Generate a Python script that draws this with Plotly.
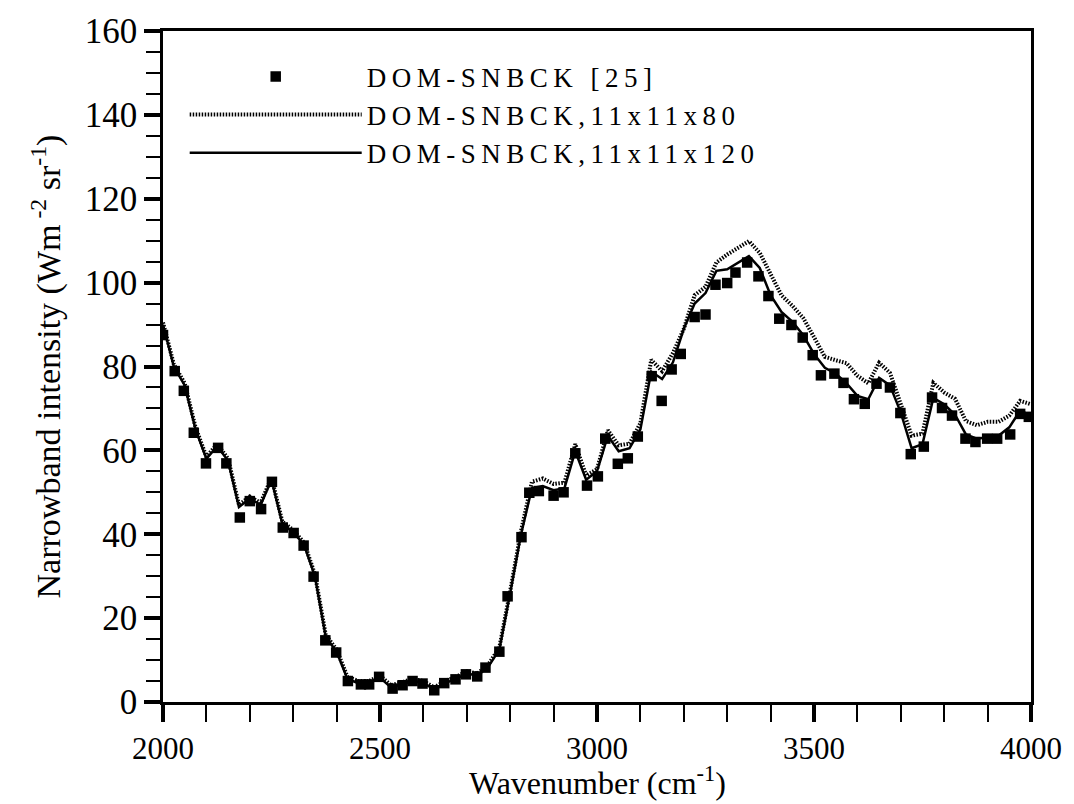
import plotly.graph_objects as go

# Reference data (markers): DOM-SNBCK [25]
ref_x = [2000, 2027, 2048, 2071, 2099, 2127, 2146, 2177, 2200, 2226, 2251, 2276, 2301, 2324,
         2347, 2374, 2399, 2426, 2456, 2475, 2498, 2529, 2552, 2575, 2598, 2625, 2648, 2674,
         2698, 2724, 2743, 2775, 2794, 2826, 2844, 2866, 2900, 2923, 2950, 2977, 3002, 3019,
         3048, 3071, 3094, 3126, 3149, 3172, 3193, 3225, 3250, 3273, 3300, 3319, 3346, 3372,
         3395, 3420, 3448, 3474, 3497, 3516, 3547, 3568, 3592, 3617, 3644, 3675, 3699, 3723,
         3753, 3772, 3795, 3818, 3849, 3872, 3899, 3922, 3952, 3975, 3995]
ref_y = [87.5, 78.9, 74.2, 64.2, 56.9, 60.6, 56.9, 44.0, 47.9, 46.0, 52.5, 41.6, 40.3, 37.3,
         29.9, 14.7, 11.8, 5.0, 4.2, 4.2, 6.0, 3.2, 4.0, 5.0, 4.4, 2.8, 4.5, 5.4,
         6.6, 6.1, 8.2, 12.0, 25.2, 39.3, 49.9, 50.3, 49.2, 50.0, 59.3, 51.6, 53.8, 62.8,
         56.8, 58.1, 63.3, 77.7, 71.8, 79.3, 83.0, 91.8, 92.4, 99.5, 99.9, 102.4, 104.8, 101.5,
         96.8, 91.4, 89.9, 86.9, 82.7, 77.9, 78.3, 76.1, 72.2, 71.1, 75.9, 75.0, 68.9, 59.1,
         60.9, 72.6, 70.1, 68.3, 62.8, 62.0, 62.8, 62.8, 63.8, 68.7, 68.0]

# Computed spectra (lines)
calc_x = [2000, 2025, 2050, 2075, 2100, 2125, 2150, 2175, 2200, 2225, 2250, 2275, 2300, 2325,
          2350, 2375, 2400, 2425, 2450, 2475, 2500, 2525, 2550, 2575, 2600, 2625, 2650, 2675,
          2700, 2725, 2750, 2775, 2800, 2825, 2850, 2875, 2900, 2925, 2950, 2975, 3000, 3025,
          3050, 3075, 3100, 3125, 3150, 3175, 3200, 3225, 3250, 3275, 3300, 3325, 3350, 3375,
          3400, 3425, 3450, 3475, 3500, 3525, 3550, 3575, 3600, 3625, 3650, 3675, 3700, 3725,
          3750, 3775, 3800, 3825, 3850, 3875, 3900, 3925, 3950, 3975, 4000]
y_120 = [90.0, 80.0, 75.5, 65.0, 58.0, 61.0, 57.5, 46.5, 48.5, 47.0, 53.0, 42.5, 40.5, 37.5,
         30.0, 15.5, 12.0, 5.5, 4.5, 4.5, 5.8, 3.5, 4.2, 5.0, 4.5, 3.0, 4.5, 5.5,
         6.8, 6.3, 8.5, 12.5, 26.0, 40.0, 51.0, 51.5, 50.5, 51.0, 59.8, 53.0, 55.0, 63.5,
         59.8, 60.5, 65.0, 78.8, 77.0, 81.0, 89.0, 95.0, 97.5, 102.8, 103.2, 104.8, 106.3, 103.5,
         97.0, 93.0, 90.7, 87.5, 83.0, 79.7, 78.3, 76.0, 73.0, 72.2, 77.3, 75.5, 69.0, 60.5,
         61.5, 72.5, 71.0, 68.5, 63.8, 62.8, 63.2, 63.5, 65.5, 69.5, 68.3]
y_80 = [90.5, 80.5, 76.0, 65.5, 58.5, 61.5, 58.0, 47.0, 49.0, 47.5, 53.5, 43.0, 41.0, 38.0,
        30.5, 16.0, 12.5, 6.0, 5.0, 5.0, 6.3, 4.0, 4.7, 5.5, 5.0, 3.5, 5.0, 6.0,
        7.3, 6.8, 9.0, 13.0, 26.5, 40.8, 52.5, 53.3, 52.0, 52.3, 61.5, 54.0, 55.5, 64.8,
        61.2, 61.6, 66.5, 81.6, 78.9, 83.2, 89.0, 97.0, 99.0, 104.8, 106.7, 108.3, 109.9, 107.1,
        102.0, 97.0, 94.5, 91.6, 87.0, 82.3, 81.5, 80.8, 77.8, 76.0, 80.9, 78.5, 71.0, 63.5,
        64.0, 76.1, 73.8, 72.3, 67.0, 66.0, 66.8, 66.8, 68.3, 71.8, 71.0]

FONT = "Liberation Serif"
LS = "letter-spacing:5.5px"

fig = go.Figure()
fig.add_trace(go.Scatter(
    x=calc_x, y=y_80, mode="lines",
    name=f'<span style="{LS}">DOM-SNBCK,11x11x80</span>',
    line=dict(color="black", width=4, dash="1.5px,1.5px"), legendrank=2))
fig.add_trace(go.Scatter(
    x=calc_x, y=y_120, mode="lines",
    name=f'<span style="{LS}">DOM-SNBCK,11x11x120</span>',
    line=dict(color="black", width=2.5), legendrank=3))
fig.add_trace(go.Scatter(
    x=ref_x, y=ref_y, mode="markers",
    name=f'<span style="{LS}">DOM-SNBCK [25]</span>',
    marker=dict(symbol="square", size=10.5, color="black"), legendrank=1))

axis_common = dict(
    showgrid=False, zeroline=False, showline=True, linecolor="black", linewidth=2.5,
    mirror=True, ticks="outside", tickcolor="black", tickwidth=3.5,
)

fig.update_xaxes(
    range=[2000, 4000], tickmode="linear", tick0=2000, dtick=500, ticklen=17,
    tickfont=dict(family=FONT, size=31, color="black"),
    minor=dict(ticks="outside", dtick=100, ticklen=17, tickwidth=2, tickcolor="black"),
    **axis_common)
fig.update_yaxes(
    range=[0, 160], tickmode="linear", tick0=0, dtick=20, ticklen=16,
    tickfont=dict(family=FONT, size=35, color="black"),
    minor=dict(ticks="outside", dtick=5, ticklen=14, tickwidth=2, tickcolor="black"),
    title=dict(text="Narrowband intensity (Wm<sup> -2</sup> sr<sup>-1</sup>)",
               font=dict(family=FONT, size=34, color="black"), standoff=14),
    **axis_common)

fig.add_annotation(
    text="Wavenumber (cm<sup>-1</sup>)", xref="paper", yref="paper",
    x=0.5, y=-0.118, xanchor="center", yanchor="middle", showarrow=False,
    font=dict(family=FONT, size=32, color="black"))

fig.update_layout(
    width=1074, height=804,
    margin=dict(l=163, r=40, t=22, b=102),
    plot_bgcolor="white", paper_bgcolor="white",
    showlegend=True,
    legend=dict(x=0.025, y=0.968, xanchor="left", yanchor="top",
                bgcolor="rgba(0,0,0,0)", itemwidth=172, tracegroupgap=0,
                font=dict(family=FONT, size=27, color="black")),
)

fig.write_html("out.html")
